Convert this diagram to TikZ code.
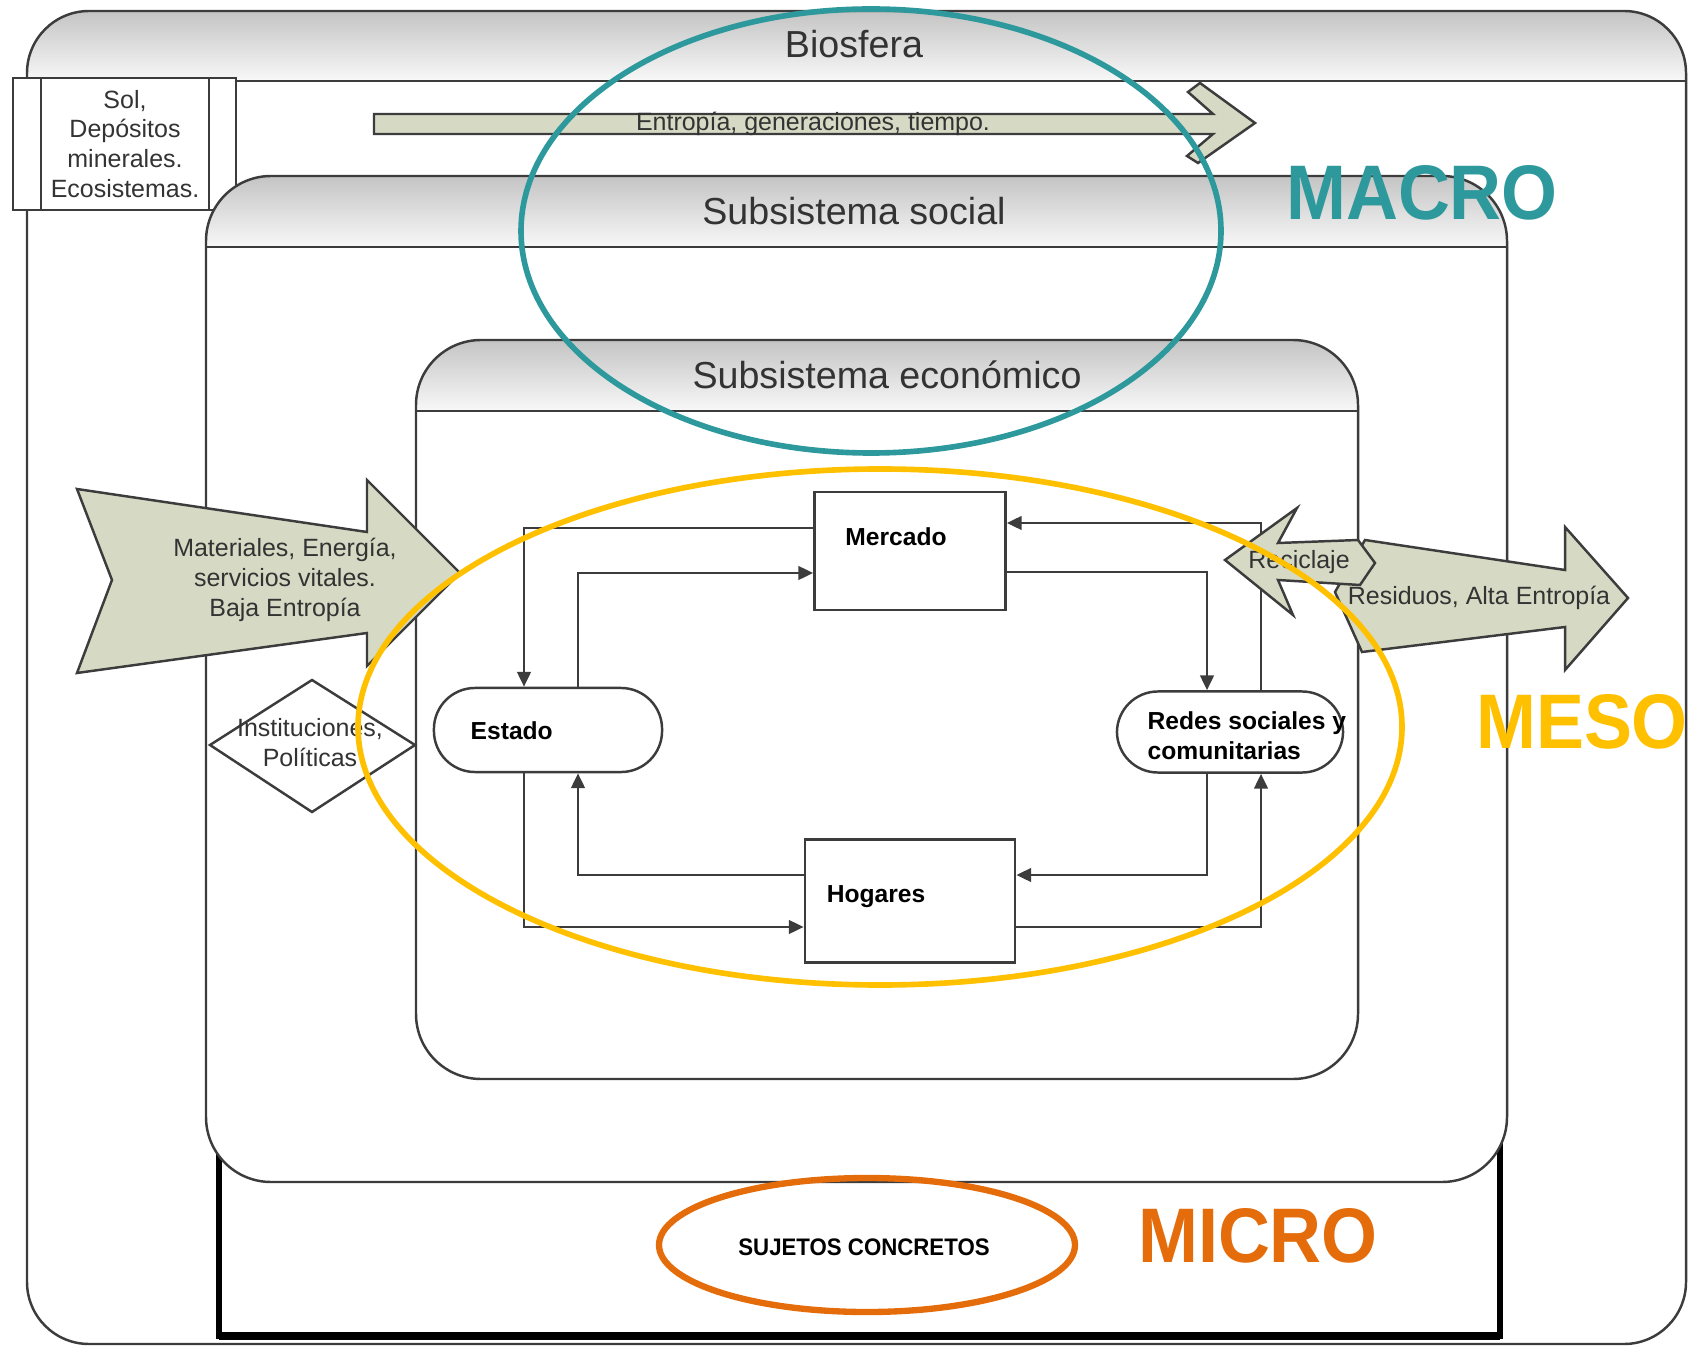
\documentclass[tikz,border=0pt]{standalone}
\usepackage{fontspec}
\setmainfont{Liberation Sans}
\newfontfamily\narrowfont[FakeStretch=0.93]{Liberation Sans}
\usetikzlibrary{arrows.meta,calc}
\definecolor{linegray}{HTML}{3C3C3C}
\definecolor{txtgray}{HTML}{333333}
\definecolor{arrowfill}{HTML}{D6DAC4}
\definecolor{hdtop}{HTML}{C4C4C4}
\definecolor{hdbot}{HTML}{F8F8F8}
\definecolor{macroteal}{HTML}{2E999C}
\definecolor{mesoyellow}{HTML}{FFC000}
\definecolor{microorange}{HTML}{E46C0A}

\begin{document}
\begin{tikzpicture}[x=0.01cm, y=-0.01cm,
  outline/.style={draw=linegray, line width=0.7pt},
  flow/.style={draw=linegray, line width=0.8pt, -{Triangle[length=4.2pt,width=3.8pt]}},
  procbox/.style={outline, fill=white, inner sep=0pt},
  termbox/.style={outline, fill=white, inner sep=0pt, rounded corners=0.41cm},
  fatarrow/.style={outline, fill=arrowfill},
  smalltxt/.style={font=\fontsize{7.1}{8.5}\selectfont, text=txtgray, align=center, inner sep=0pt},
  boxtxt/.style={font=\fontsize{7}{8.5}\selectfont\bfseries, align=left, inner sep=0pt},
  headtxt/.style={font=\fontsize{10.7}{12}\selectfont, text=txtgray, inner sep=0pt},
  scaletxt/.style={font=\narrowfont\fontsize{22}{24}\selectfont\bfseries, inner sep=0pt},
  ring/.style={line width=1.6pt}]
\useasboundingbox (0,0) rectangle (1700,1346);

% Biosfera
\fill[white, rounded corners=0.62cm] (27,11) rectangle (1686,1344);
\begin{scope}
\clip[rounded corners=0.62cm] (27,11) rectangle (1686,1344);
\shade[top color=hdtop, bottom color=hdbot] (27,11) rectangle (1686,81);
\end{scope}
\draw[outline, rounded corners=0.62cm] (27,11) rectangle (1686,1344);
\draw[outline] (27,81) -- (1686,81); % header
\node[headtxt] (biosfera) at (854,44) {Biosfera};

% sources
\draw[outline, fill=white] (13,78) rectangle (236,210);
\draw[outline] (41,78) -- (41,210);
\draw[outline] (209,78) -- (209,210);
\node[smalltxt] (sol) at (125,144) {Sol,\\Depósitos\\minerales.\\Ecosistemas.};

% time arrow
\draw[fatarrow] (374,114) -- (1213,114) -- (1188,92) -- (1200,83) -- (1255,123) -- (1198,163) -- (1187,156) -- (1213,134) -- (374,134) -- cycle;
\node[smalltxt] (entropia) at (813,124) {Entropía, generaciones, tiempo.};

% frame of the subjects
\draw[line width=1.5pt] (219,1100) -- (219,1336) -- (1500,1336) -- (1500,1100);
\draw[line width=2pt] (219,1336) -- (1500,1336); % bottom

% social subsystem
\fill[white, rounded corners=0.65cm] (206,176) rectangle (1507,1182);
\begin{scope}
\clip[rounded corners=0.65cm] (206,176) rectangle (1507,1182);
\shade[top color=hdtop, bottom color=hdbot] (206,176) rectangle (1507,247);
\end{scope}
\draw[outline, rounded corners=0.65cm] (206,176) rectangle (1507,1182);
\draw[outline] (206,247) -- (1507,247); % header
\node[headtxt] (social) at (854,211) {Subsistema social};

% economic subsystem
\fill[white, rounded corners=0.65cm] (416,340) rectangle (1358,1079);
\begin{scope}
\clip[rounded corners=0.65cm] (416,340) rectangle (1358,1079);
\shade[top color=hdtop, bottom color=hdbot] (416,340) rectangle (1358,411);
\end{scope}
\draw[outline, rounded corners=0.65cm] (416,340) rectangle (1358,1079);
\draw[outline] (416,411) -- (1358,411); % header
\node[headtxt] (economico) at (887,375) {Subsistema económico};

% agents
\node[procbox, minimum width=1.91cm, minimum height=1.18cm] (mercado) at (910,551) {};
\node[procbox, minimum width=2.10cm, minimum height=1.23cm] (hogares) at (910,901) {};
\node[termbox, minimum width=2.28cm, minimum height=0.84cm] (estado) at (548,730) {};
\node[termbox, minimum width=2.26cm, minimum height=0.81cm] (redes) at (1230,732) {};
\node[boxtxt] (mercadotxt) at (896,537) {Mercado};
\node[boxtxt] (hogarestxt) at (876,897) {Hogares};
\node[boxtxt, anchor=west] (estadotxt) at (470,731) {Estado};
\node[boxtxt, anchor=west] (redestxt) at (1147,736) {Redes sociales y\\comunitarias};

% flows
\draw[flow] ($(mercado.west)+(0,-23)$) -| ($(estado.north)+(-24,0)$);
\draw[flow] ($(estado.north)+(30,0)$) |- ($(mercado.west)+(0,22)$);
\draw[flow] ($(mercado.east)+(0,21)$) -| ($(redes.north)+(-23,0)$);
\draw[flow] ($(redes.north)+(31,0)$) |- ($(mercado.east)+(0,-28)$);
\draw[flow] ($(hogares.west)+(0,-26)$) -| ($(estado.south)+(30,0)$);
\draw[flow] ($(estado.south)+(-24,0)$) |- ($(hogares.west)+(0,26)$);
\draw[flow] ($(redes.south)+(-23,0)$) |- ($(hogares.east)+(0,-26)$);
\draw[flow] ($(hogares.east)+(0,26)$) -| ($(redes.south)+(31,0)$);

% inputs
\draw[fatarrow] (77,489) -- (367,532) -- (367,480) -- (460,573) -- (367,666) -- (367,633) -- (77,673) -- (112,580) -- cycle;
\node[smalltxt] (materiales) at (285,580) {Materiales, Energía,\\servicios vitales.\\Baja Entropía};
\draw[outline, fill=white] (210,745) -- (312,680) -- (415,745) -- (312,812) -- cycle;
\node[smalltxt] (instituciones) at (310,743) {Instituciones,\\Políticas};

% outputs
\draw[fatarrow] (1365,540) -- (1565,570) -- (1565,527) -- (1628,598) -- (1565,670) -- (1565,627) -- (1362,652) -- (1335,592) -- cycle;
\node[smalltxt] (residuos) at (1479,598) {Residuos, Alta Entropía};
\draw[fatarrow] (1225,560) -- (1297,508) -- (1278,543) -- (1358,540) -- (1375,563) -- (1360,585) -- (1278,580) -- (1293,615) -- cycle;
\node[smalltxt] (reciclaje) at (1299,562) {Reciclaje};

% levels
\draw[ring, macroteal] (871,231) ellipse [x radius=350, y radius=222];
\draw[ring, mesoyellow] (880,727) ellipse [x radius=522, y radius=258];
\draw[ring, microorange, line width=1.8pt] (867,1245) ellipse [x radius=208, y radius=67];
\node[scaletxt, text=macroteal] (macro) at (1422,193) {MACRO};
\node[scaletxt, text=mesoyellow] (meso) at (1582,722) {MESO};
\node[scaletxt, text=microorange] (micro) at (1258,1236) {MICRO};
\node[font=\narrowfont\fontsize{6.8}{8}\selectfont\bfseries, inner sep=0pt] (sujetos) at (864,1247) {SUJETOS CONCRETOS};
\end{tikzpicture}
\end{document}
